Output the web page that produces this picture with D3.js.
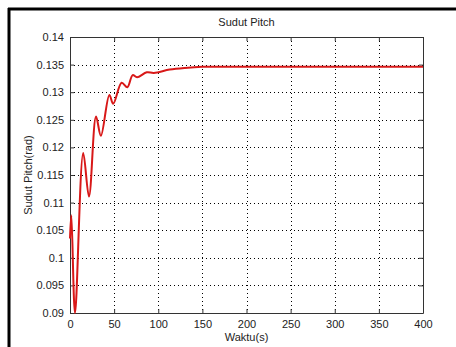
<!DOCTYPE html>
<html>
<head>
<meta charset="utf-8">
<script src="https://cdn.jsdelivr.net/npm/d3@7"></script>
<style>
  body { margin: 0; background: #fff; }
  svg text { font-family: "Liberation Sans", Arial, sans-serif; fill: #222; }
</style>
</head>
<body>
<div class="chart"></div>
<script>
// waktu (s) and sudut pitch (rad)
const waktu = [0, 1.5, 5.7, 15, 21.5, 29.5, 35, 44.6, 49, 58.5, 65, 71, 76, 87, 95, 113, 130, 150, 200, 250, 300, 350, 400];
const pitch = [0.1035, 0.1077, 0.0900, 0.1190, 0.1111, 0.1256, 0.1221, 0.1295, 0.1279, 0.1317, 0.1309, 0.1331, 0.1327, 0.1336, 0.1335, 0.1341, 0.1344, 0.1346, 0.1346, 0.1346, 0.1346, 0.1346, 0.1346];
const xTicks = [0, 50, 100, 150, 200, 250, 300, 350, 400];
const yTicks = [0.09, 0.095, 0.1, 0.105, 0.11, 0.115, 0.12, 0.125, 0.13, 0.135, 0.14];

const width = 456, height = 347;
const margin = { left: 70, top: 37, right: 33, bottom: 34 };

let svg = d3.select('.chart').append('svg')
  .attr('width', width)
  .attr('height', height);

// frame border (top + left only, cropped screenshot)
svg.append('line').attr('x1', 8).attr('x2', width).attr('y1', 9).attr('y2', 9)
  .style('stroke', '#000').style('stroke-width', 3);
svg.append('line').attr('x1', 9).attr('x2', 9).attr('y1', 8).attr('y2', height)
  .style('stroke', '#000').style('stroke-width', 3);

let x = d3.scaleLinear().domain([0, 400]).range([margin.left, width - margin.right]);
let y = d3.scaleLinear().domain([0.09, 0.14]).range([height - margin.bottom, margin.top]);

let x0 = x.range()[0], x1 = x.range()[1], y0 = y.range()[0], y1 = y.range()[1];

// grid
let grid = svg.append('g')
  .style('stroke', '#000').style('stroke-width', 1).style('stroke-dasharray', '1,3');
grid.selectAll('.gx').data(xTicks.slice(1, -1)).enter().append('line')
  .attr('x1', d => Math.round(x(d)) + 0.5).attr('x2', d => Math.round(x(d)) + 0.5)
  .attr('y1', y1).attr('y2', y0);
grid.selectAll('.gy').data(yTicks.slice(1, -1)).enter().append('line')
  .attr('y1', d => Math.round(y(d)) + 0.5).attr('y2', d => Math.round(y(d)) + 0.5)
  .attr('x1', x0).attr('x2', x1);

// axes (ticks inside, MATLAB style)
let fmt = d => String(+d.toFixed(3));
svg.append('g')
  .attr('transform', 'translate(0,' + y0 + ')')
  .call(d3.axisBottom(x).tickValues(xTicks).tickSizeInner(-4).tickSizeOuter(0).tickPadding(7).tickFormat(fmt))
  .call(g => g.selectAll('text').style('font-size', '11px'));
svg.append('g')
  .attr('transform', 'translate(' + x0 + ',0)')
  .call(d3.axisLeft(y).tickValues(yTicks).tickSizeInner(-4).tickSizeOuter(0).tickPadding(6).tickFormat(fmt))
  .call(g => g.selectAll('text').style('font-size', '11px'));
svg.append('g')
  .attr('transform', 'translate(0,' + y1 + ')')
  .call(d3.axisTop(x).tickValues(xTicks).tickSizeInner(-4).tickSizeOuter(0).tickFormat(''));
svg.append('g')
  .attr('transform', 'translate(' + x1 + ',0)')
  .call(d3.axisRight(y).tickValues(yTicks).tickSizeInner(-4).tickSizeOuter(0).tickFormat(''));
svg.selectAll('.domain, .tick line').style('stroke', '#333');

// the curve
let line = d3.line()
  .x((d, i) => x(waktu[i]))
  .y(d => y(d))
  .curve(d3.curveCatmullRom.alpha(0.5));
svg.append('path')
  .datum(pitch)
  .attr('d', line)
  .style('fill', 'none')
  .style('stroke', '#d81818')
  .style('stroke-width', 2);

// labels
svg.append('text').attr('x', (x0 + x1) / 2).attr('y', 26)
  .attr('text-anchor', 'middle').style('font-size', '11px').text('Sudut Pitch');
svg.append('text').attr('x', (x0 + x1) / 2).attr('y', 341)
  .attr('text-anchor', 'middle').style('font-size', '11px').text('Waktu(s)');
svg.append('text')
  .attr('transform', 'translate(32,' + (y0 + y1) / 2 + ') rotate(-90)')
  .attr('text-anchor', 'middle').style('font-size', '11px').text('Sudut Pitch(rad)');
</script>
</body>
</html>
